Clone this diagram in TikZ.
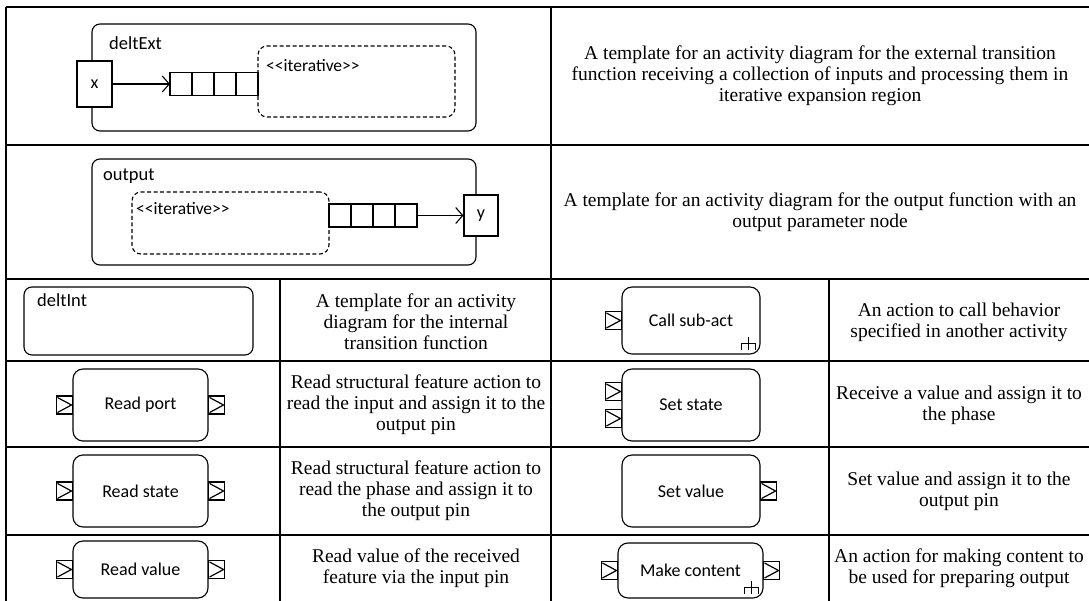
\documentclass[tikz,border=0pt]{standalone}
\usepackage{fontspec}
\setmainfont{Liberation Serif}
\newfontfamily\umlsans{Carlito}
\usetikzlibrary{positioning,arrows.meta}
\tikzset{
  grid line/.style={line width=1.3pt},
  desc/.style={align=center, inner sep=0pt, font=\fontsize{19.5}{21}\selectfont},
  activity/.style={draw, line width=1.1pt, rounded corners=8pt, inner sep=0pt},
  action/.style={activity, rounded corners=10pt, font=\umlsans\fontsize{18}{21}\selectfont},
  region/.style={draw, line width=1.1pt, dash pattern=on 4pt off 2.5pt, rounded corners=9pt},
  param/.style={draw, fill=white, line width=1.1pt, inner sep=0pt, font=\umlsans\fontsize{18}{21}\selectfont},
  qcell/.style={draw, line width=1.1pt, minimum width=22pt, minimum height=23pt, inner sep=0pt, outer sep=0pt},
  pinbox/.style={draw, fill=white, line width=1.1pt, minimum width=16pt, minimum height=18pt, inner sep=0pt, outer sep=0pt,
    path picture={\draw[line width=1.2pt] ([xshift=1pt,yshift=-1.5pt]path picture bounding box.north west)
      -- ([xshift=-1pt]path picture bounding box.east) -- ([xshift=1pt,yshift=1.5pt]path picture bounding box.south west);}},
  umllabel/.style={font=\umlsans\fontsize{18.5}{21}\selectfont, inner sep=0pt},
  stereo/.style={font=\umlsans\fontsize{17.5}{20}\selectfont, inner sep=0pt},
  flow/.style={line width=1.1pt, -{Straight Barb[length=7pt,width=16pt]}},
}
\newcommand{\rakesym}[1]{\draw[line width=1.2pt] ([yshift=7pt]#1) -- ([yshift=-6pt]#1)
  ([xshift=-7pt,yshift=-6pt]#1) -- ([xshift=-7pt]#1) -- ([xshift=7pt]#1) -- ([xshift=7pt,yshift=-6pt]#1);}

\begin{document}
\begin{tikzpicture}[x=1pt,y=-1pt]
  \useasboundingbox (0,0) rectangle (1089,601);
  \draw[grid line] (6,7) -- (1089,7) (6,145) -- (1089,145) (6,279) -- (1089,279)
  (6,361) -- (1089,361) (6,447) -- (1089,447) (6,535) -- (1089,535);
  \draw[grid line] (6,7) -- (6,601) (551,7) -- (551,601) (280,279) -- (280,601) (829,279) -- (829,601);

  \node[activity, minimum width=384pt, minimum height=107pt] (extAct) at (284,77.5) {};
  \node[umllabel, anchor=west] (extName) at (109,43) {deltExt};
  \node[param, minimum width=35pt, minimum height=46pt] (xin) at (94.5,84) {x};
  \node[qcell] (inq1) at (181,84) {};
  \node[qcell, right=0pt of inq1] (inq2) {};
  \node[qcell, right=0pt of inq2] (inq3) {};
  \node[qcell, right=0pt of inq3] (inq4) {};
  \node[region, minimum width=197pt, minimum height=71pt] (extReg) at (356.5,81.5) {};
  \node[stereo, anchor=west] (extIt) at (266,66) {<<iterative>>};
  \draw[flow] (xin) -- (inq1);

  \node[activity, minimum width=384pt, minimum height=106pt] (outAct) at (284,212) {};
  \node[umllabel, anchor=west] (outName) at (103,176) {output};
  \node[region, minimum width=197pt, minimum height=62pt] (outReg) at (230.5,223) {};
  \node[stereo, anchor=west] (outIt) at (136,209) {<<iterative>>};
  \node[qcell] (outq1) at (340,215.5) {};
  \node[qcell, right=0pt of outq1] (outq2) {};
  \node[qcell, right=0pt of outq2] (outq3) {};
  \node[qcell, right=0pt of outq3] (outq4) {};
  \node[param, minimum width=34pt, minimum height=41pt] (yout) at (481,215.5) {y};
  \draw[flow] (outq4) -- (yout);

  \node[activity, minimum width=229pt, minimum height=68pt] (intAct) at (138.5,321) {};
  \node[umllabel, anchor=west] (intName) at (37,300) {deltInt};

  \node[action, minimum width=138pt, minimum height=67pt] (callAct) at (691,320.5) {Call sub-act};
  \node[pinbox, left=0pt of callAct.west] (callIn) {};
  \coordinate (callRake) at ([xshift=-12pt,yshift=11pt]callAct.south east);
  \rakesym{callRake}

  \node[action, minimum width=135pt, minimum height=72pt] (portAct) at (140.5,405) {Read port};
  \node[pinbox, left=0pt of portAct.west] (portIn) {};
  \node[pinbox, right=0pt of portAct.east] (portOut) {};

  \node[action, minimum width=138pt, minimum height=72pt] (setAct) at (691,405) {Set state};
  \node[pinbox, left=0pt of setAct.west, yshift=13.5pt] (setIn1) {};
  \node[pinbox, left=0pt of setAct.west, yshift=-13.5pt] (setIn2) {};

  \node[action, minimum width=135pt, minimum height=72pt] (stateAct) at (140.5,491) {Read state};
  \node[pinbox, left=0pt of stateAct.west] (stateIn) {};
  \node[pinbox, right=0pt of stateAct.east] (stateOut) {};

  \node[action, minimum width=138pt, minimum height=72pt] (valAct) at (691,491) {Set value};
  \node[pinbox, right=0pt of valAct.east] (valOut) {};

  \node[action, minimum width=135pt, minimum height=57pt] (readAct) at (140.5,569.5) {Read value};
  \node[pinbox, left=0pt of readAct.west] (readIn) {};
  \node[pinbox, right=0pt of readAct.east] (readOut) {};

  \node[action, minimum width=145pt, minimum height=55pt] (makeAct) at (690.5,570.5) {Make content};
  \node[pinbox, left=0pt of makeAct.west] (makeIn) {};
  \node[pinbox, right=0pt of makeAct.east] (makeOut) {};
  \coordinate (makeRake) at ([xshift=-12pt,yshift=11pt]makeAct.south east);
  \rakesym{makeRake}

  \node[desc] (extDesc) at (820,76) {A template for an activity diagram for the external transition\\
  function receiving a collection of inputs and processing them in\\ iterative expansion region};
  \node[desc] (outDesc) at (820,212) {A template for an activity diagram for the output function with an\\
  output parameter node};
  \node[desc] (intDesc) at (416,322) {A template for an activity\\ diagram for the internal\\ transition function};
  \node[desc] (callDesc) at (959,322) {An action to call behavior\\ specified in another activity};
  \node[desc] (portDesc) at (416,405) {Read structural feature action to\\ read the input and assign it to the\\ output pin};
  \node[desc] (setDesc) at (959,405) {Receive a value and assign it to\\ the phase};
  \node[desc] (stateDesc) at (416,491) {Read structural feature action to\\ read the phase and assign it to\\ the output pin};
  \node[desc] (valDesc) at (959,491) {Set value and assign it to the\\ output pin};
  \node[desc] (readDesc) at (416,568) {Read value of the received\\ feature via the input pin};
  \node[desc] (makeDesc) at (959,568) {An action for making content to\\ be used for preparing output};
\end{tikzpicture}
\end{document}
